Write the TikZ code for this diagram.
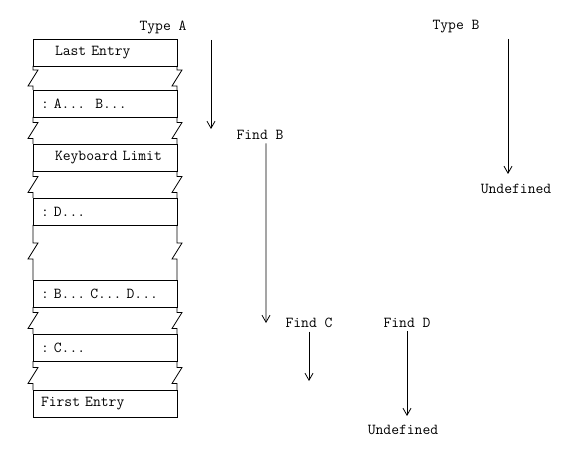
\documentclass[tikz,border=0pt]{standalone}
\usepackage{fontspec}
\usetikzlibrary{arrows.meta}
\frenchspacing

\tikzset{
  entry/.style={draw, anchor=north west, outer sep=0pt, minimum height=27bp,
    inner xsep=8bp, inner ysep=0pt, text width=128bp, align=left},
  flow/.style={-{Straight Barb[length=7bp,width=8bp]}},
}

\begin{document}
\begin{tikzpicture}[x=1bp,y=-1bp,line width=0.8bp,font=\ttfamily\fontsize{15.2bp}{17bp}\selectfont]
\useasboundingbox (0,0) rectangle (574,469);

%---------------------Dictionary Entries------------------%
\node[entry] (last) at (33,39) {\hspace*{14bp}Last Entry};
\node[entry] (ab) at (33,90) {: A...\ \ B...};
\node[entry] (kbd) at (33,144) {\hspace*{14bp}Keyboard Limit};
\node[entry] (d) at (33,198) {: D...};
\node[entry] (bcd) at (33,280) {: B... C... D...};
\node[entry] (c) at (33,334) {: C...};
\node[entry] (first) at (33,390) {First Entry};
%--------------------------------------------------------%

%---------------------Broken Walls------------------%
\draw (last.south west) -- ++(0,4) -- ++(5,0) -- ++(-10,16) -- ++(5,0) -- (ab.north west);
\draw (last.south east) -- ++(0,4) -- ++(5,0) -- ++(-10,16) -- ++(5,0) -- (ab.north east);

\draw (ab.south west) -- ++(0,5.5) -- ++(5,0) -- ++(-10,16) -- ++(5,0) -- (kbd.north west);
\draw (ab.south east) -- ++(0,5.5) -- ++(5,0) -- ++(-10,16) -- ++(5,0) -- (kbd.north east);

\draw (kbd.south west) -- ++(0,5.5) -- ++(5,0) -- ++(-10,16) -- ++(5,0) -- (d.north west);
\draw (kbd.south east) -- ++(0,5.5) -- ++(5,0) -- ++(-10,16) -- ++(5,0) -- (d.north east);

\draw (d.south west) -- ++(0,18) -- ++(5,0) -- ++(-10,16) -- ++(5,0) -- (bcd.north west);
\draw (d.south east) -- ++(0,18) -- ++(5,0) -- ++(-10,16) -- ++(5,0) -- (bcd.north east);

\draw (bcd.south west) -- ++(0,5.5) -- ++(5,0) -- ++(-10,16) -- ++(5,0) -- (c.north west);
\draw (bcd.south east) -- ++(0,5.5) -- ++(5,0) -- ++(-10,16) -- ++(5,0) -- (c.north east);

\draw (c.south west) -- ++(0,6.5) -- ++(5,0) -- ++(-10,16) -- ++(5,0) -- (first.north west);
\draw (c.south east) -- ++(0,6.5) -- ++(5,0) -- ++(-10,16) -- ++(5,0) -- (first.north east);
%--------------------------------------------------------%

%---------------------Search Steps------------------%
\node (typeA) at (163,27) {Type A};
\node (typeB) at (456,27) {Type B};
\node (findB) at (260,135) {Find B};
\node (undefB) at (516,189) {Undefined};
\node (findC) at (309,323) {Find C};
\node (findD) at (407,323) {Find D};
\node (undefD) at (403,430) {Undefined};

\coordinate (a0) at (211,40);
\coordinate (a1) at (211,129);
\coordinate (b0) at (508,39);
\coordinate (b1) at (508,174);
\coordinate (fb1) at (266,323);
\coordinate (fc1) at (309,381);
\coordinate (fd1) at (407,416);
%--------------------------------------------------------%

\draw[flow] (a0) -- (a1);
\draw[flow] (b0) -- (b1);
\draw[flow] ([xshift=6bp]findB.south) -- (fb1);
\draw[flow] (findC.south) -- (fc1);
\draw[flow] (findD.south) -- (fd1);
\end{tikzpicture}
\end{document}
